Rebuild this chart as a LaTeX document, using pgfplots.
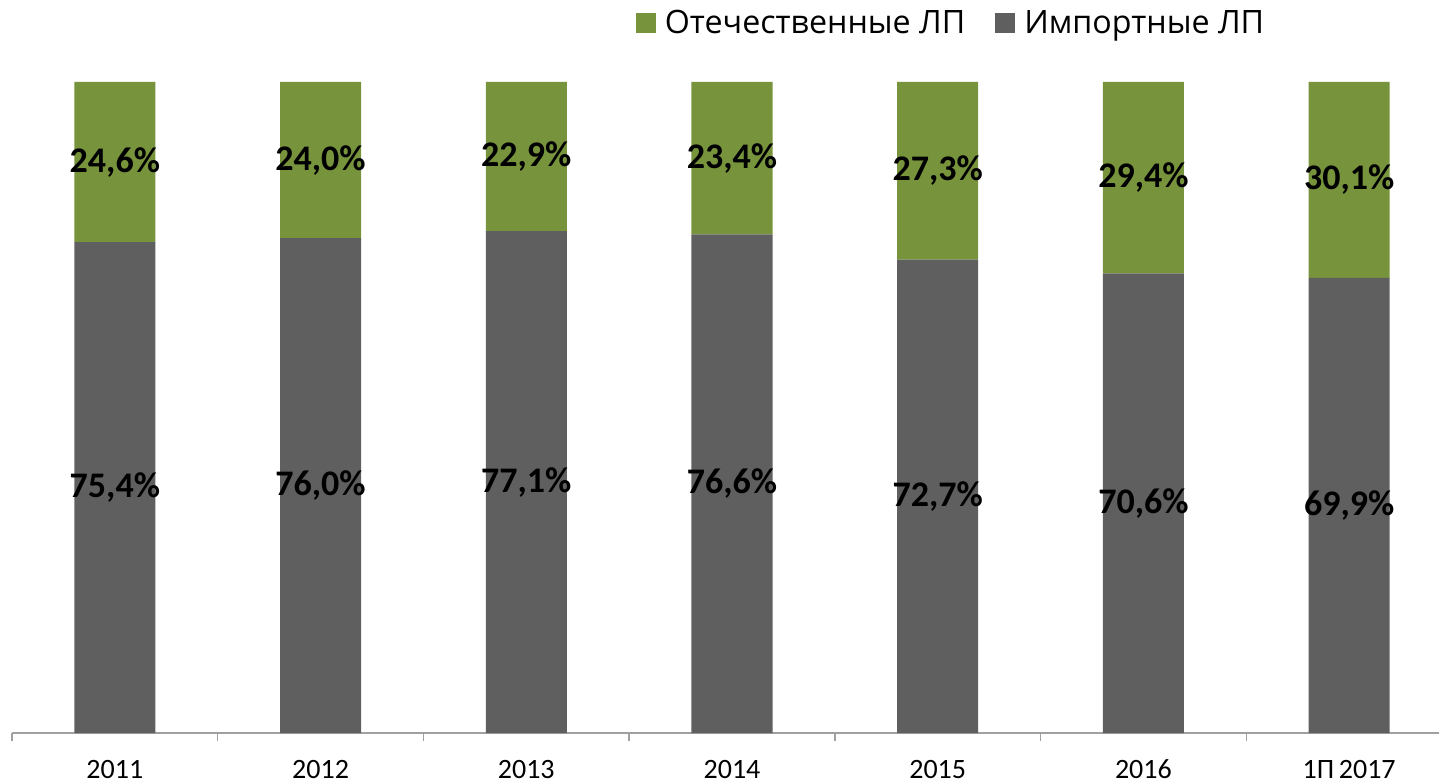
\documentclass[border=0pt]{standalone}
\usepackage{fontspec}
\setmainfont{Carlito}
\newfontfamily\legendfont{Open Sans}
\usepackage{pgfplots}
\pgfplotsset{compat=1.18}
\definecolor{domgreen}{HTML}{77933C}
\definecolor{impgray}{HTML}{5F5F5F}
\definecolor{axgray}{HTML}{A0A0A0}

\begin{document}
\begin{tikzpicture}
\begin{axis}[scale only axis, width=713.5pt, height=325.5pt,
  ybar stacked, bar width=0.394,
  xmin=-0.5, xmax=6.437, ymin=0, ymax=100,
  hide y axis, axis x line=bottom, x axis line style={-, axgray, line width=0.75pt},
  xtick={0,...,6}, xticklabels={2011,2012,2013,2014,2015,2016,1П\,2017},
  minor xtick={-0.5,0.5,...,5.5}, major tick length=0pt, minor tick length=4pt,
  tick align=outside, minor tick style={axgray, line width=0.75pt},
  xticklabel style={font=\fontsize{14}{16}\selectfont, anchor=base, yshift=-22.5pt},
  nodes near coords={\pgfmathprintnumber[use comma, fixed, fixed zerofill, precision=1, assume math mode=true]{\pgfplotspointmeta}\%},
  % with anchor=center the stacked labels already sit in the middle of each segment
  every node near coord/.append style={font=\bfseries\fontsize{18}{20}\selectfont, black, anchor=center},
  legend columns=2, reverse legend,
  legend style={draw=none, at={(0.6587,1.0906)}, anchor=center, font=\legendfont\fontsize{16.1}{18}\selectfont,
    /tikz/every even column/.append style={column sep=13pt}},
  legend image code/.code={\fill[#1] (0pt,-5pt) rectangle (10pt,5pt); \path (12.5pt,0pt);},
]
\addplot[fill=impgray, draw=none] coordinates {(0,75.4) (1,76.0) (2,77.1) (3,76.6) (4,72.7) (5,70.6) (6,69.9)};
\addlegendentry{Импортные ЛП}
\addplot[fill=domgreen, draw=none] coordinates {(0,24.6) (1,24.0) (2,22.9) (3,23.4) (4,27.3) (5,29.4) (6,30.1)};
\addlegendentry{Отечественные ЛП}
\end{axis}
\pgfresetboundingbox
\path[use as bounding box] (-6pt,-24.5pt) rectangle (713.5pt,366.5pt);
\end{tikzpicture}
\end{document}
